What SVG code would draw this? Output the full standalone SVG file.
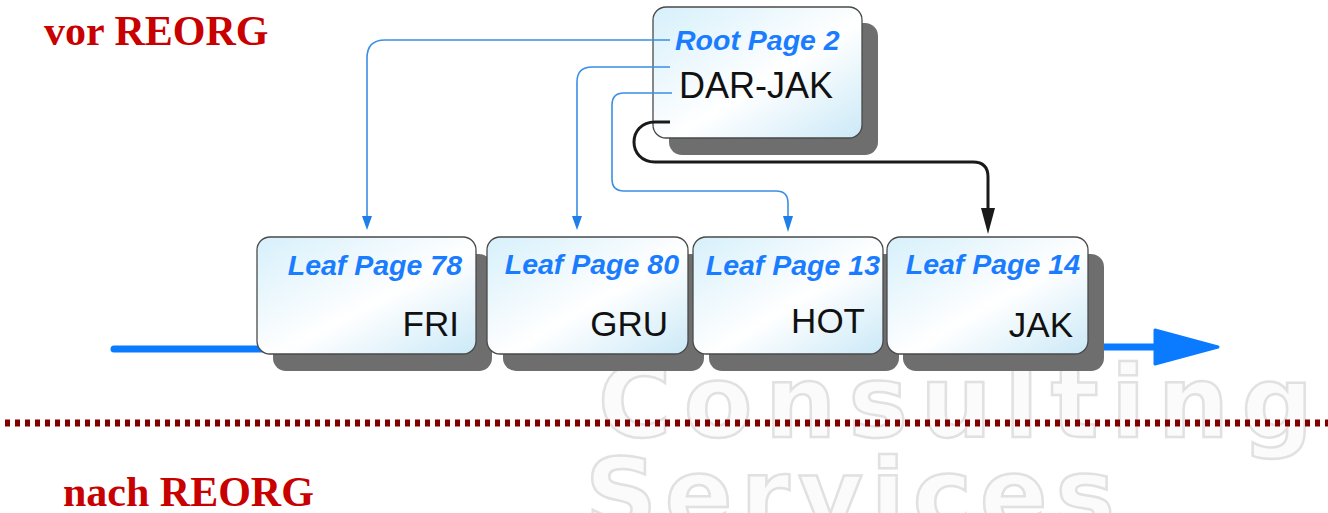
<svg xmlns="http://www.w3.org/2000/svg" width="1328" height="513" viewBox="0 0 1328 513">
  <style>
    .title { font-family: "Liberation Serif", "Times New Roman", serif; font-weight: bold; font-size: 42px; fill: #c80000; }
    .wm { font-family: "DejaVu Sans", sans-serif; font-weight: bold; font-size: 100px; fill: #fbfbfb; stroke: #e1e1e1; stroke-width: 2.5; }
    .box { fill: url(#nodeFill); stroke: #4a4a4a; stroke-width: 1.3; }
    .shadow { fill: #6e6e6e; }
    .lbl { font-family: "Liberation Sans", Arial, sans-serif; font-weight: bold; font-style: italic; font-size: 28.5px; fill: #1a7cff; }
    .key { font-family: "Liberation Sans", Arial, sans-serif; font-size: 35px; fill: #111111; }
    .blue { fill: none; stroke: #3a8ee6; stroke-width: 1.6; }
    .black { fill: none; stroke: #1a1a1a; stroke-width: 3; }
    .chain { fill: none; stroke: #0a7bff; stroke-width: 7; stroke-linecap: round; }
  </style>
  <defs>
    <linearGradient id="nodeFill" x1="0" y1="0" x2="1" y2="1">
      <stop offset="0" stop-color="#d6f0fb"/>
      <stop offset="0.45" stop-color="#f8fcfe"/>
      <stop offset="0.55" stop-color="#ffffff"/>
      <stop offset="1" stop-color="#cbe9f7"/>
    </linearGradient>
  </defs>

  <rect x="0" y="0" width="1328" height="513" fill="#ffffff"/>

  <!-- watermark -->
  <g id="watermark">
    <text class="wm" x="598" y="437" textLength="715" lengthAdjust="spacing">Consulting</text>
    <text class="wm" x="585" y="530" textLength="530" lengthAdjust="spacing">Services</text>
  </g>

  <!-- titles -->
  <text class="title" x="44" y="45">vor REORG</text>
  <text class="title" x="63" y="506">nach REORG</text>

  <!-- separator -->
  <line x1="5" y1="423" x2="1328" y2="423" stroke="#800000" stroke-width="7" stroke-dasharray="5 5"/>

  <!-- leaf chain -->
  <g id="chain">
    <line class="chain" x1="114" y1="349" x2="262" y2="349"/>
    <line class="chain" x1="1100" y1="347" x2="1165" y2="347"/>
    <path d="M1155,330 L1218,347 L1155,364 Z" fill="#0a7bff" stroke="#0a7bff" stroke-width="3" stroke-linejoin="round"/>
  </g>

  <!-- nodes -->
  <g id="root">
    <rect class="shadow" x="669" y="23" width="209" height="132" rx="13"/>
    <rect class="box" x="653" y="7" width="209" height="131" rx="13"/>
    <text class="lbl" x="675" y="50">Root Page 2</text>
    <text class="key" x="679" y="98" style="font-size:36px">DAR-JAK</text>
  </g>

  <g id="leaf78">
    <rect class="shadow" x="273" y="254" width="219" height="117" rx="13"/>
    <rect class="box" x="257" y="237" width="219" height="117" rx="13"/>
    <text class="lbl" x="462" y="275" text-anchor="end">Leaf Page 78</text>
    <text class="key" x="459" y="336" text-anchor="end">FRI</text>
  </g>

  <g id="leaf80">
    <rect class="shadow" x="503" y="254" width="201" height="117" rx="13"/>
    <rect class="box" x="487" y="237" width="201" height="117" rx="13"/>
    <text class="lbl" x="679" y="274" text-anchor="end">Leaf Page 80</text>
    <text class="key" x="668" y="336" text-anchor="end">GRU</text>
  </g>

  <g id="leaf13">
    <rect class="shadow" x="709" y="254" width="190" height="117" rx="13"/>
    <rect class="box" x="693" y="237" width="190" height="117" rx="13"/>
    <text class="lbl" x="880" y="275" text-anchor="end">Leaf Page 13</text>
    <text class="key" x="865" y="333" text-anchor="end">HOT</text>
  </g>

  <g id="leaf14">
    <rect class="shadow" x="903" y="254" width="201" height="117" rx="13"/>
    <rect class="box" x="887" y="237" width="201" height="117" rx="13"/>
    <text class="lbl" x="1080" y="274" text-anchor="end">Leaf Page 14</text>
    <text class="key" x="1073" y="337" text-anchor="end">JAK</text>
  </g>

  <!-- connectors -->
  <g id="connectors">
    <path class="blue" d="M670,40 H385 Q367,40 367,58 V217"/>
    <path d="M362,216 L372,216 L367,230 Z" fill="#1f7fe8"/>
    <path class="blue" d="M670,67 H592 Q577,67 577,82 V217"/>
    <path d="M572,216 L582,216 L577,230 Z" fill="#1f7fe8"/>
    <path class="blue" d="M672,93 H624 Q612,93 612,105 V179 Q612,191 624,191 H776 Q788,191 788,203 V217"/>
    <path d="M783,216 L793,216 L788,232 Z" fill="#1f7fe8"/>
    <path class="black" d="M670,122 H655 C627,122 627,162 655,162 H973 Q988,162 988,177 V212"/>
    <path d="M981,208 L995,208 L988,234 Z" fill="#1a1a1a"/>
  </g>
</svg>
